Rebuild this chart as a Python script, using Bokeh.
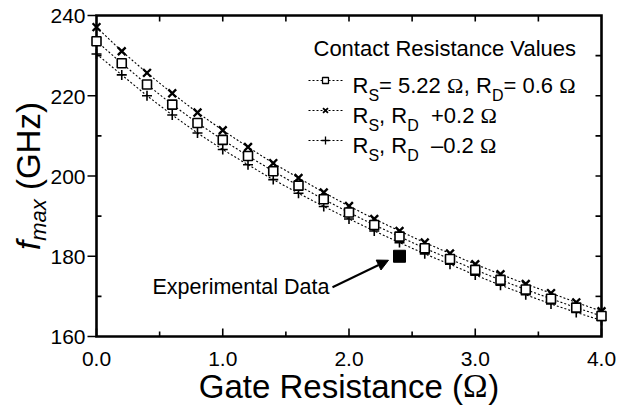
import math
from bokeh.plotting import figure
from bokeh.models import Range1d, Label, Arrow, NormalHead, ColumnDataSource
from bokeh.core.properties import value
from bokeh.embed import file_html
from bokeh.resources import INLINE

# ---- data -------------------------------------------------------------
gate_resistance = [0.0, 0.2, 0.4, 0.6, 0.8, 1.0, 1.2, 1.4, 1.6, 1.8, 2.0,
                   2.2, 2.4, 2.6, 2.8, 3.0, 3.2, 3.4, 3.6, 3.8, 4.0]
fmax_nominal = [233.6, 228.1, 222.8, 217.8, 213.2, 209.0, 205.0, 201.2, 197.6, 194.2, 190.9,
                187.8, 184.9, 182.0, 179.3, 176.6, 174.1, 171.7, 169.4, 167.2, 165.1]
fmax_plus = [237.1, 231.1, 225.7, 220.6, 215.8, 211.4, 207.2, 203.2, 199.5, 195.9, 192.5,
             189.3, 186.3, 183.4, 180.7, 178.0, 175.5, 173.1, 170.8, 168.5, 166.3]
fmax_minus = [230.4, 225.2, 220.0, 215.2, 210.7, 206.6, 202.8, 199.1, 195.7, 192.4, 189.3,
              186.3, 183.4, 180.6, 178.0, 175.3, 172.8, 170.4, 168.1, 166.0, 164.0]
exp_resistance = [2.4]
exp_fmax = [180.0]

x_ticks = [0, 1, 2, 3, 4]
x_tick_labels = ["0.0", "1.0", "2.0", "3.0", "4.0"]
x_minor = [0.5, 1.5, 2.5, 3.5]
y_ticks = [160, 180, 200, 220, 240]
y_tick_labels = ["160", "180", "200", "220", "240"]
y_minor = [170, 190, 210, 230]
top_ticks = [0.5, 1.0, 1.5, 2.0, 2.5, 3.0, 3.5]
right_ticks = [170, 180, 190, 200, 210, 220, 230]

legend_title = "Contact Resistance Values"
exp_text = "Experimental Data"

# rich-text pieces: (text, role)
entry_nominal = [("R", "M"), ("S", "S"), ("= 5.22 ", "M"), ("Ω", "O"), (", R", "M"), ("D", "S"),
                 ("= 0.6 ", "M"), ("Ω", "O")]
entry_plus = [("R", "M"), ("S", "S"), (", R", "M"), ("D", "S"), ("  +0.2 ", "M"), ("Ω", "O")]
entry_minus = [("R", "M"), ("S", "S"), (", R", "M"), ("D", "S"), ("  –0.2 ", "M"), ("Ω", "O")]
x_label = [("Gate Resistance (", "M"), ("Ω", "O"), (")", "M")]
y_label = [("f", "I"), ("max", "IS"), (" (GHz)", "M")]

# ---- geometry ---------------------------------------------------------
W, H = 617, 407
LEFT, RIGHT, TOP, BOTTOM = 96, 601, 15, 336          # data box on the canvas
XMIN, XMAX, YMIN, YMAX = 0.0, 4.0, 160.0, 240.0
PPX = (RIGHT - LEFT) / (XMAX - XMIN)                 # pixels per x unit
PPY = (BOTTOM - TOP) / (YMAX - YMIN)                 # pixels per y unit
SANS = "Liberation Sans"
SERIF = "Liberation Serif"
BASE_FIX = 0.31   # anchor-to-baseline correction for "alphabetic" text, in em


def dx(px):
    return XMIN + (px - LEFT) / PPX


def dy(py):
    return YMAX - (py - TOP) / PPY


def px_x(x):
    return LEFT + (x - XMIN) * PPX


def px_y(y):
    return TOP + (YMAX - y) * PPY


ADV = {' ': 278, '(': 333, ')': 333, '+': 584, ',': 278, '-': 333, '.': 278, '=': 584,
       '–': 556, 'Ω': 768, 'C': 722, 'D': 722, 'E': 667, 'G': 778, 'H': 722, 'R': 722,
       'S': 667, 'V': 667, 'a': 556, 'c': 500, 'e': 556, 'f': 278, 'i': 222, 'l': 222,
       'm': 833, 'n': 556, 'o': 556, 'p': 556, 'r': 333, 's': 500, 't': 278, 'u': 556,
       'x': 500, 'z': 500}
for d in "0123456789":
    ADV[d] = 556


def text_w(t, size):
    return sum(ADV.get(c, 556) for c in t) * size / 1000.0


# the frame spans the whole canvas; the boxed axes are drawn on it
p = figure(width=W, height=H, output_backend="svg", toolbar_location=None,
           x_range=Range1d(dx(0), dx(W)), y_range=Range1d(dy(H), dy(0)),
           x_axis_type=None, y_axis_type=None,
           min_border=0, min_border_left=0, min_border_right=0,
           min_border_top=0, min_border_bottom=0)
p.outline_line_color = None
p.xgrid.visible = False
p.ygrid.visible = False
p.background_fill_color = "white"
p.border_fill_color = "white"

AXW = 2.6
TW = 1.6

# ---- axes box, ticks and tick labels ----------------------------------
p.quad(left=[XMIN], right=[XMAX], bottom=[YMIN], top=[YMAX], fill_color=None,
       line_color="black", line_width=AXW, line_join="miter")

# bottom: ticks pointing in
p.segment(x0=x_ticks, y0=[YMIN] * len(x_ticks), x1=x_ticks,
          y1=[YMIN + 8 / PPY] * len(x_ticks), line_color="black", line_width=TW)
p.segment(x0=x_minor, y0=[YMIN] * len(x_minor), x1=x_minor,
          y1=[YMIN + 5 / PPY] * len(x_minor), line_color="black", line_width=TW)
# left: major ticks out, minor ticks in
p.segment(x0=[XMIN - 9 / PPX] * len(y_ticks), y0=y_ticks, x1=[XMIN] * len(y_ticks),
          y1=y_ticks, line_color="black", line_width=TW)
p.segment(x0=[XMIN] * len(y_minor), y0=y_minor, x1=[XMIN + 5 / PPX] * len(y_minor),
          y1=y_minor, line_color="black", line_width=TW)
# top and right: plain inward ticks
p.segment(x0=top_ticks, y0=[YMAX] * len(top_ticks), x1=top_ticks,
          y1=[YMAX - 6 / PPY] * len(top_ticks), line_color="black", line_width=TW)
p.segment(x0=[XMAX] * len(right_ticks), y0=right_ticks, x1=[XMAX - 6 / PPX] * len(right_ticks),
          y1=right_ticks, line_color="black", line_width=TW)

TICK_FS = 21
TFIX = BASE_FIX * TICK_FS
p.text(x=x_ticks, y=[dy(BOTTOM + 29 - TFIX)] * len(x_ticks), text=x_tick_labels,
       text_font=value(SANS), text_font_size=f"{TICK_FS}px", text_color="black",
       text_align="center", text_baseline="alphabetic")
p.text(x=[dx(LEFT - 11)] * len(y_ticks), y=[yv - (7.5 - TFIX) / PPY for yv in y_ticks],
       text=y_tick_labels, text_font=value(SANS), text_font_size=f"{TICK_FS}px",
       text_color="black", text_align="right", text_baseline="alphabetic")

# ---- curves -----------------------------------------------------------
src = ColumnDataSource(dict(x=gate_resistance, nom=fmax_nominal, plus=fmax_plus, minus=fmax_minus))
for col in ("plus", "nom", "minus"):
    p.line("x", col, source=src, line_color="black", line_width=1.1, line_dash="2 2")
p.scatter("x", "plus", source=src, marker="x", size=11, line_color="black", line_width=2.4)
p.scatter("x", "minus", source=src, marker="cross", size=10, line_color="black", line_width=1.6)
p.scatter("x", "nom", source=src, marker="square", size=9, line_color="black",
          fill_color="white", line_width=1.6)

p.scatter(exp_resistance, exp_fmax, marker="square", size=12, line_color="black",
          fill_color="black")

# ---- rich text --------------------------------------------------------
MAIN, SUB = 22, 16


def roles(role, main, sub):
    if role == "M":
        return SANS, main, "normal", 0
    if role == "O":
        return SERIF, main, "normal", 0
    if role == "S":
        return SANS, sub, "normal", 8
    if role == "I":
        return SANS, main, "italic", 0
    if role == "IS":
        return SANS, sub, "italic", 7


def add_text(text, px, base, size, font=SANS, style="normal", angle=0.0):
    if angle:
        lab = Label(x=dx(base - BASE_FIX * size), y=dy(px), text=text, angle=angle)
    else:
        lab = Label(x=dx(px), y=dy(base - BASE_FIX * size), text=text)
    lab.text_align = "left"
    lab.text_baseline = "alphabetic"
    lab.text_font = font
    lab.text_font_size = f"{size}px"
    lab.text_font_style = style
    lab.text_color = "black"
    p.add_layout(lab)


def rich(pieces, x0, base, main, sub, vertical=False):
    sign = -1 if vertical else 1
    pos = x0
    for t, role in pieces:
        font, size, style, shift = roles(role, main, sub)
        body = t.strip(" ")
        lead = len(t) - len(t.lstrip(" "))
        trail = len(t) - len(t.rstrip(" "))
        pos += sign * lead * ADV[' '] * size / 1000.0
        add_text(body, pos, base + shift, size, font, style, math.pi / 2 if vertical else 0.0)
        pos += sign * (text_w(body, size) + trail * ADV[' '] * size / 1000.0)


def rich_width(pieces, main, sub):
    return sum(text_w(t, roles(r, main, sub)[1]) for t, r in pieces)


# legend block
add_text(legend_title, 313, 55, 22)

entries = [(entry_nominal, "square", 6, 1.3), (entry_plus, "x", 7, 1.8), (entry_minus, "cross", 8, 1.3)]
for i, (pieces, mk, ms, lw) in enumerate(entries):
    base = 92 + 30 * i
    ymid = dy(base - 12)
    p.segment(x0=[dx(308)], y0=[ymid], x1=[dx(342)], y1=[ymid], line_color="black",
              line_width=1.1, line_dash="2 2")
    p.scatter([dx(325)], [ymid], marker=mk, size=ms, line_color="black",
              fill_color="white", line_width=lw)
    rich(pieces, 352, base, MAIN, SUB)

# axis titles
XL_SIZE = 33
wx = rich_width(x_label, XL_SIZE, 22)
rich(x_label, (LEFT + RIGHT) / 2 - wx / 2, 396, XL_SIZE, 22)
wy = rich_width(y_label, XL_SIZE, 22)
rich(y_label, (TOP + BOTTOM) / 2 + wy / 2, 38, XL_SIZE, 22, vertical=True)

# experimental point callout
ex, ey = px_x(exp_resistance[0]), px_y(exp_fmax[0])
p.add_layout(Arrow(x_start=dx(ex - 67), y_start=dy(ey + 31), x_end=dx(ex - 11), y_end=dy(ey + 4),
                   line_color="black", line_width=2,
                   end=NormalHead(size=11, fill_color="black", line_color="black")))
add_text(exp_text, 152, 293, 21.5)

open("out.html", "w").write(file_html(p, INLINE))
